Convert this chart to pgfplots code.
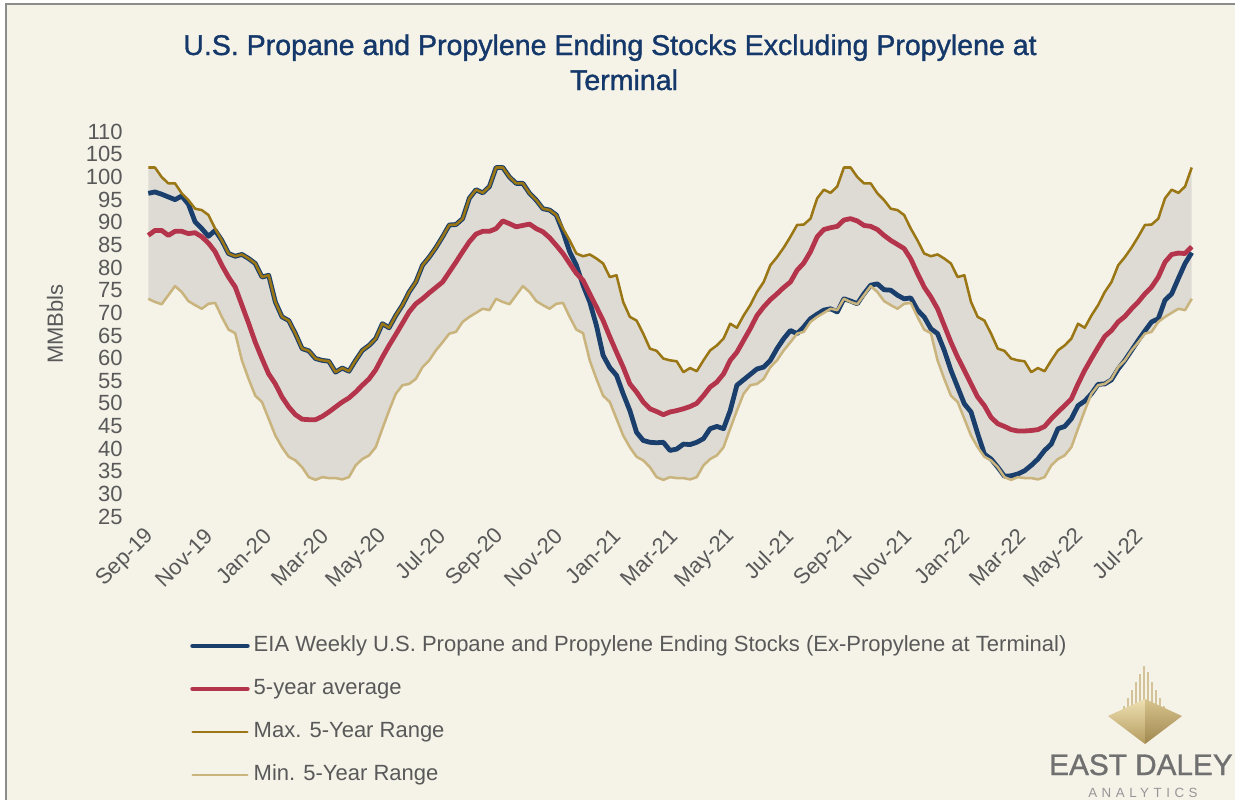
\documentclass[border=0pt]{standalone}
\usepackage{fontspec}
\setmainfont{Liberation Sans}
\usepackage{pgfplots}
\pgfplotsset{compat=1.18}
\usepackage{pgfplotstable}
\usepgfplotslibrary{fillbetween}
\definecolor{bgc}{HTML}{F5F2E8}
\definecolor{gridc}{HTML}{D9D9D9}
\definecolor{bluec}{HTML}{1A3F6C}
\definecolor{redc}{HTML}{B3344B}
\definecolor{maxc}{HTML}{9A7714}
\definecolor{minc}{HTML}{C9B47E}
\definecolor{txtc}{HTML}{595959}
\definecolor{titlec}{HTML}{14386A}
\definecolor{bandc}{RGB}{150,150,150}
\definecolor{logog}{RGB}{112,112,112}
\definecolor{logol}{RGB}{150,150,150}

\pgfplotstableread{
w blue avg max min
0 96.4 87.1 102.1 73.1
1 96.7 88.2 102.1 72.4
2 96.2 88.2 100.0 71.9
3 95.6 87.1 98.6 73.9
4 95.0 88.0 98.6 75.9
5 95.8 88.0 96.4 74.6
6 94.0 87.5 94.9 72.6
7 90.1 87.7 93.0 71.7
8 88.6 86.8 92.7 70.9
9 86.9 85.4 91.6 72.0
10 88.2 83.5 88.6 72.2
11 86.0 80.5 86.0 69.1
12 83.1 77.9 83.1 66.3
13 82.5 75.7 82.5 65.5
14 82.9 71.7 82.9 59.5
15 82.0 67.7 82.0 55.4
16 80.9 63.5 80.9 51.7
17 77.9 59.9 77.9 50.3
18 78.3 56.5 78.3 46.6
19 72.4 54.3 72.4 42.9
20 69.1 51.4 69.1 40.3
21 68.3 49.2 68.3 38.2
22 65.4 47.5 65.4 37.4
23 62.1 46.5 62.1 35.9
24 61.6 46.4 61.6 33.7
25 59.9 46.4 59.9 33.1
26 59.5 47.1 59.5 33.7
27 59.3 48.1 59.3 33.5
28 56.9 49.2 56.9 33.5
29 57.8 50.3 57.8 33.2
30 57.1 51.2 57.1 33.7
31 59.5 52.5 59.5 36.3
32 61.7 54.0 61.7 37.7
33 62.8 55.4 62.8 38.5
34 64.3 57.4 64.3 40.3
35 67.6 60.2 67.6 44.4
36 66.7 62.8 66.7 48.4
37 69.4 65.2 69.4 52.1
38 71.7 67.7 71.7 54.0
39 74.6 70.2 74.6 54.3
40 76.8 72.0 76.8 55.4
41 80.5 73.1 80.5 58.0
42 82.3 74.4 82.3 59.5
43 84.4 75.6 84.4 61.7
44 86.8 76.8 86.8 63.5
45 89.4 79.0 89.4 65.4
46 89.5 81.2 89.5 65.8
47 90.8 83.5 90.8 68.0
48 95.3 85.7 95.3 69.1
49 97.2 87.4 97.2 70.0
50 96.5 88.0 96.5 70.9
51 97.9 88.0 97.9 70.6
52 102.1 88.6 102.1 73.1
53 102.1 90.3 102.1 72.4
54 100.0 89.7 100.0 71.9
55 98.6 89.0 98.6 73.9
56 98.6 89.3 98.6 75.9
57 96.4 89.6 96.4 74.6
58 94.9 88.6 94.9 72.6
59 93.0 87.9 93.0 71.7
60 92.7 86.6 92.7 70.9
61 91.6 84.9 91.6 72.0
62 87.9 83.1 88.6 72.2
63 83.5 80.9 86.0 69.1
64 80.5 78.7 83.1 66.3
65 76.1 77.2 82.5 65.5
66 72.4 74.2 82.9 59.5
67 67.2 71.3 82.0 55.4
68 60.6 68.3 80.9 51.7
69 57.9 64.7 77.9 50.3
70 56.2 61.3 78.3 46.6
71 52.1 58.0 72.4 42.9
72 48.4 54.3 69.1 40.3
73 43.6 52.5 68.3 38.2
74 41.8 50.3 65.4 37.4
75 41.4 48.8 62.1 35.9
76 41.3 48.2 61.6 33.7
77 41.4 47.5 59.9 33.1
78 39.6 48.1 59.5 33.7
79 39.9 48.4 59.3 33.5
80 41.0 48.8 56.9 33.5
81 40.9 49.3 57.8 33.2
82 41.4 50.0 57.1 33.7
83 42.2 51.7 59.5 36.3
84 44.4 53.6 61.7 37.7
85 44.9 54.7 62.8 38.5
86 44.4 56.5 64.3 40.3
87 48.4 59.5 67.6 44.4
88 54.0 61.3 66.7 48.4
89 55.2 63.9 69.4 52.1
90 56.4 66.5 71.7 54.0
91 57.6 69.4 74.6 54.3
92 58.0 71.3 76.8 55.4
93 59.5 72.9 80.5 58.0
94 62.1 74.2 82.3 59.5
95 64.3 75.6 84.4 61.7
96 66.1 76.8 86.8 63.5
97 65.4 79.4 89.4 65.4
98 66.9 81.0 89.5 65.8
99 68.7 83.5 90.8 68.0
100 69.7 86.8 95.3 69.1
101 70.6 88.4 97.2 70.0
102 70.9 88.8 96.5 70.9
103 70.2 89.1 97.9 70.6
104 73.1 90.5 102.1 73.1
105 72.6 90.8 102.1 72.4
106 72.0 90.3 100.0 71.9
107 74.2 89.3 98.6 73.9
108 76.1 89.1 98.6 75.9
109 76.4 88.4 96.4 74.6
110 75.1 87.1 94.9 72.6
111 75.0 86.0 93.0 71.7
112 73.9 85.1 92.7 70.9
113 73.1 84.2 91.6 72.0
114 73.3 81.9 88.6 72.2
115 70.6 78.7 86.0 69.1
116 69.1 75.7 83.1 66.3
117 66.5 73.5 82.5 65.5
118 65.4 70.9 82.9 59.5
119 61.7 67.2 82.0 55.4
120 57.3 63.5 80.9 51.7
121 53.6 60.2 77.9 50.3
122 49.9 57.3 78.3 46.6
123 48.1 54.3 72.4 42.9
124 43.3 51.4 69.1 40.3
125 38.8 49.5 68.3 38.2
126 37.7 46.9 65.4 37.4
127 35.9 45.5 62.1 35.9
128 33.9 44.9 61.6 33.7
129 34.0 44.2 59.9 33.1
130 34.4 43.9 59.5 33.7
131 35.1 43.9 59.3 33.5
132 36.3 44.0 56.9 33.5
133 37.7 44.2 57.8 33.2
134 39.6 44.9 57.1 33.7
135 41.0 46.6 59.5 36.3
136 44.4 48.1 61.7 37.7
137 44.9 49.5 62.8 38.5
138 46.6 51.0 64.3 40.3
139 49.5 54.3 67.6 44.4
140 50.5 57.3 66.7 48.4
141 52.1 59.9 69.4 52.1
142 54.2 62.4 71.7 54.0
143 54.3 64.8 74.6 54.3
144 55.2 66.1 76.8 55.4
145 57.6 68.0 80.5 58.0
146 59.5 69.2 82.3 59.5
147 61.7 70.9 84.4 61.7
148 63.9 72.4 86.8 63.5
149 66.0 74.2 89.4 65.4
150 68.0 75.7 89.5 65.8
151 68.7 77.9 90.8 68.0
152 72.8 81.2 95.3 69.1
153 74.2 82.9 97.2 70.0
154 77.6 83.2 96.5 70.9
155 80.9 83.1 97.9 70.6
156 83.3 84.6 102.1 73.1
}\data

\begin{document}
\begin{tikzpicture}
\fill[white] (0pt,0pt) rectangle (926.25pt,-600pt);
\fill[bgc] (4.5pt,-3pt) rectangle (926.25pt,-600pt);
\draw[gray!90, line width=1.5pt] (4.5pt,-600pt) -- (4.5pt,-3pt) -- (926.25pt,-3pt);

\begin{axis}[
  at={(111.2pt,-387.4pt)}, anchor=south west,
  scale only axis, width=782.6pt, height=288.6pt,
  xmin=0, xmax=156, ymin=25, ymax=110,
  clip=false,
  fill between/on layer=main,
  axis line style={draw=none},
  major tick length=0pt,
  tick style={draw=none},
  ymajorgrids, grid style={gridc, line width=1.3pt},
  ytick={25,30,...,110},
  /pgf/number format/assume math mode=true,
  yticklabel style={font=\fontsize{16.5}{18}\selectfont, text=txtc, anchor=east, inner sep=0pt, xshift=-19pt},
  xtick={0,8.714,17.429,26,34.714,43.429,52.286,61,69.714,78.143,86.857,95.571,104.429,113.143,121.857,130.286,139,147.714},
  xticklabels={Sep-19,Nov-19,Jan-20,Mar-20,May-20,Jul-20,Sep-20,Nov-20,Jan-21,Mar-21,May-21,Jul-21,Sep-21,Nov-21,Jan-22,Mar-22,May-22,Jul-22},
  xticklabel style={yshift=-12pt, xshift=2pt, font=\fontsize{16.5}{18}\selectfont, text=txtc, rotate=45, anchor=east, inner sep=0pt},
  legend style={at={(axis description cs:0.04,-0.308)}, anchor=north west, draw=none, fill=none, inner sep=0pt, row sep=16.25pt, column sep=3pt, font=\fontsize{16.5}{18}\selectfont, text=txtc, nodes={text height=12pt, text depth=4pt, inner sep=0pt}},
  legend image code/.code={\draw[#1, line cap=round] (0pt,0pt) -- (41pt,0pt);},
  legend cell align=left,
]
\addplot[draw=none, name path=maxp, forget plot] table[x=w,y=max]{\data};
\addplot[draw=none, name path=minp, forget plot] table[x=w,y=min]{\data};
\addplot[fill=bandc, fill opacity=0.24, draw=none, forget plot] fill between[of=maxp and minp];
\addplot[bluec, line width=3.6pt, line join=round] table[x=w,y=blue]{\data};
\addlegendentry{EIA Weekly U.S. Propane and Propylene Ending Stocks (Ex-Propylene at Terminal)}
\addplot[redc, line width=3.6pt, line join=round] table[x=w,y=avg]{\data};
\addlegendentry{5-year average}
\addplot[maxc, line width=1.9pt, line join=round] table[x=w,y=max]{\data};
\addlegendentry{Max. 5-Year Range}
\addplot[minc, line width=1.9pt, line join=round] table[x=w,y=min]{\data};
\addlegendentry{Min. 5-Year Range}
\end{axis}

\begin{scope}[x=0.75pt,y=-0.75pt]
\node[anchor=base, text=titlec, font=\fontsize{21.4}{25}\selectfont\addfontfeatures{FakeBold=1.2}, inner sep=0pt] at (610,55) {U.S. Propane and Propylene Ending Stocks Excluding Propylene at};
\node[anchor=base, text=titlec, font=\fontsize{21.4}{25}\selectfont\addfontfeatures{FakeBold=1.2}, inner sep=0pt] at (624,90) {Terminal};
\node[rotate=90, text=txtc, font=\fontsize{16.5}{18}\selectfont, inner sep=0pt] at (55,324) {MMBbls};
% logo
\foreach \xx/\yy in {1124/706,1128/698,1132/690,1136/682,1140/674,1144/666,1148/672,1152/682,1156/690,1160/698,1164/706}
  \draw[color=minc!80!white, line width=1pt] (\xx,714) -- (\xx,\yy);
\shade[top color={rgb,255:red,238;green,224;blue,178}, bottom color={rgb,255:red,180;green,155;blue,95}] (1108,716) -- (1145,699) -- (1145,744) -- cycle;
\shade[top color={rgb,255:red,215;green,195;blue,140}, bottom color={rgb,255:red,160;green,135;blue,80}] (1145,699) -- (1182,716) -- (1145,744) -- cycle;
\node[anchor=base west, text=logog, font=\fontsize{22.3}{25}\selectfont\addfontfeatures{FakeBold=1}, inner sep=0pt] at (1049,775) {EAST DALEY};
\node[anchor=base west, text=logol, font=\fontsize{10}{12}\selectfont\addfontfeatures{LetterSpace=34}, inner sep=0pt] at (1088,797) {ANALYTICS};
\end{scope}
\pgfresetboundingbox
\path[use as bounding box] (0pt,0pt) rectangle (926.25pt,-600pt);
\end{tikzpicture}
\end{document}
